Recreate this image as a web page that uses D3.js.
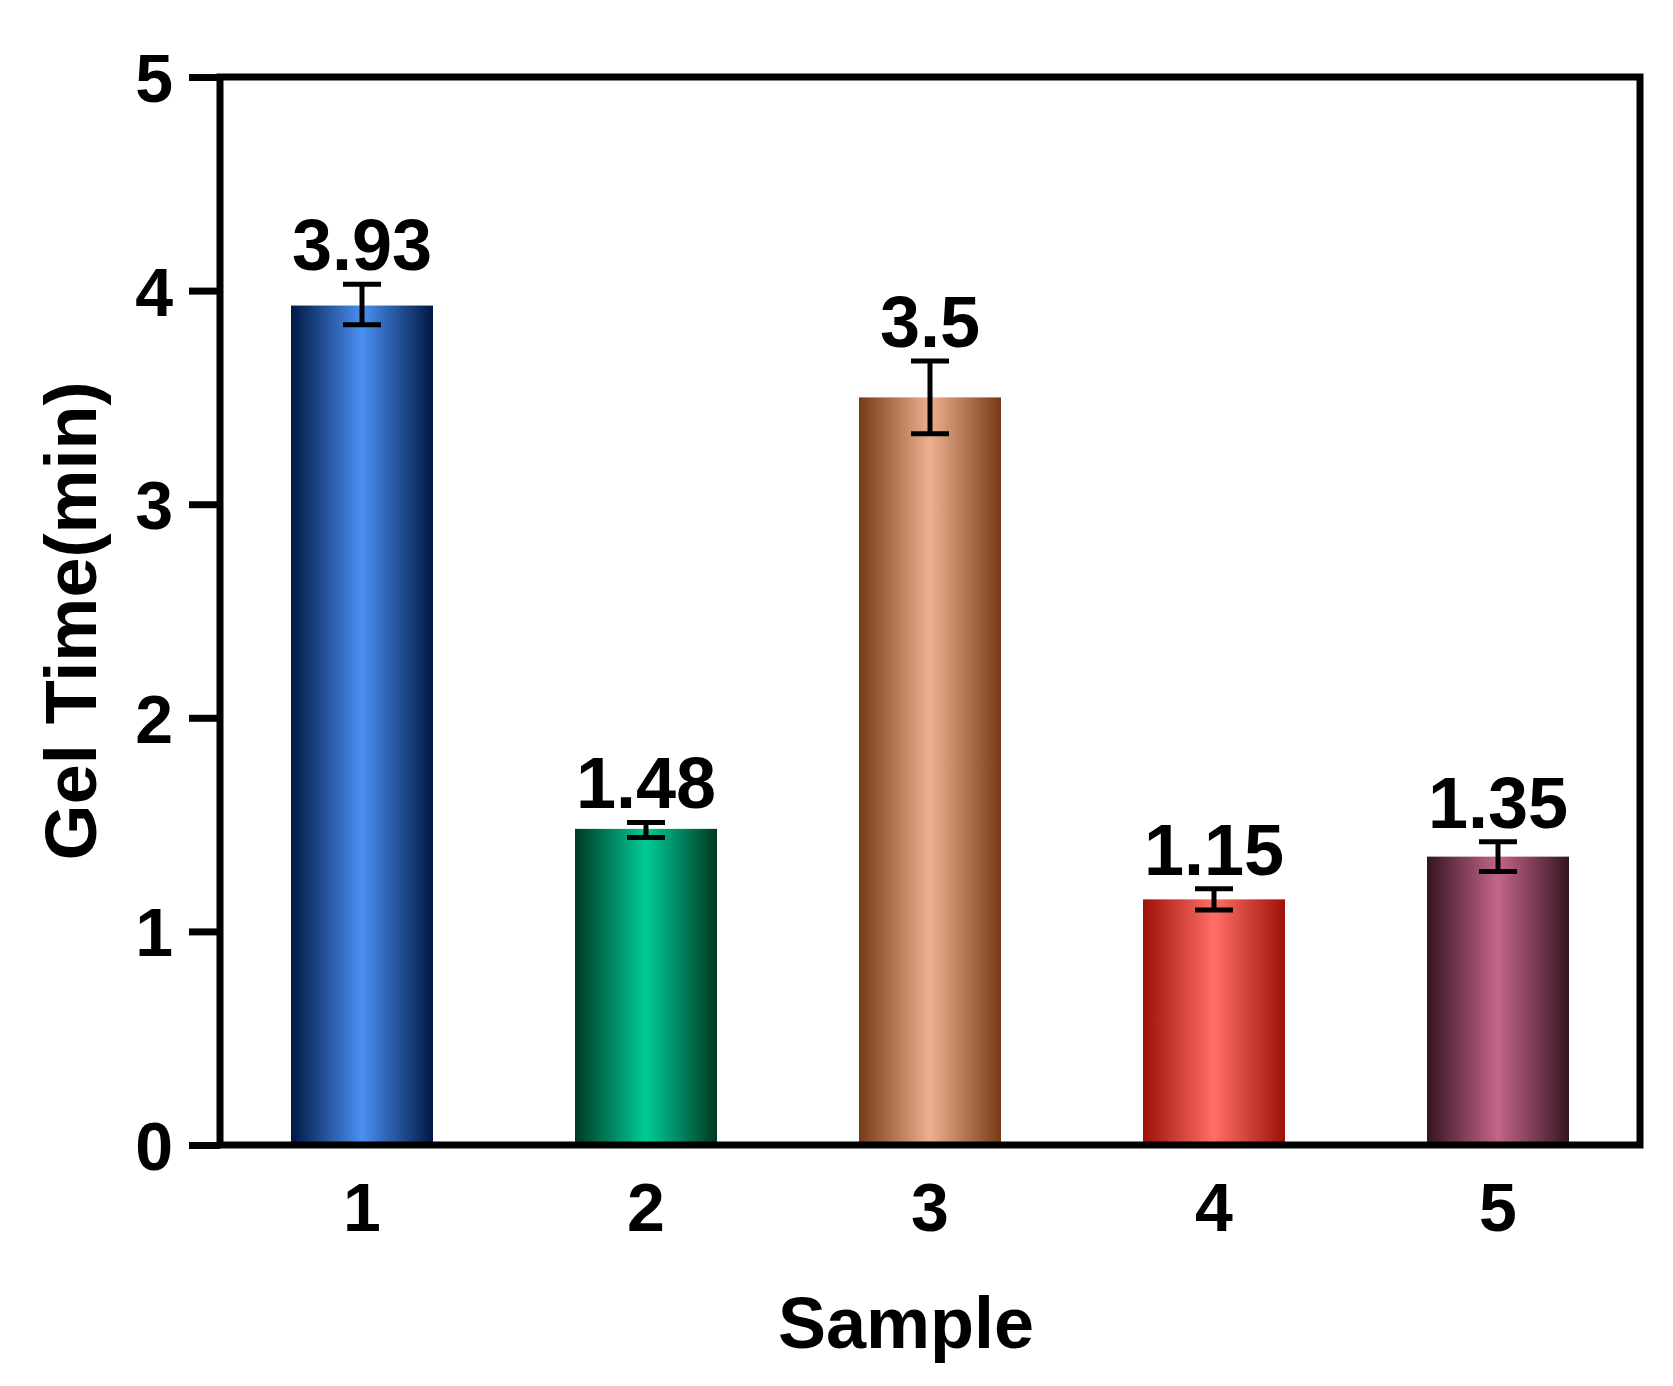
<!DOCTYPE html><html><head><script src="https://cdn.jsdelivr.net/npm/d3@7"></script>
<style>body{margin:0;background:#fff}</style></head><body><svg id="c" width="1673" height="1386"></svg><script>
const samples=["1","2","3","4","5"];
const values=[3.93,1.48,3.5,1.15,1.35];
const errLow=[3.84,1.44,3.33,1.10,1.28];
const errHigh=[4.03,1.51,3.67,1.20,1.42];
const labels=["3.93","1.48","3.5","1.15","1.35"];
const edgeColors=["#001845","#003a22","#763a16","#9e1008","#351522"];
const midColors=["#4a90f2","#00cc99","#edb18f","#ff6f66","#c46589"];
const yTicks=[0,1,2,3,4,5];
const svg=d3.select("#c"),L=220,R=1640,T=77,B=1145;
const x=d3.scaleBand().domain(samples).range([L,R]).paddingInner(0.5).paddingOuter(0.25);
const y=d3.scaleLinear().domain([0,5]).range([B,T]);
const defs=svg.append("defs");
samples.forEach((s,i)=>{const g=defs.append("linearGradient").attr("id","g"+i);
g.append("stop").attr("offset","0%").attr("stop-color",edgeColors[i]);
g.append("stop").attr("offset","50%").attr("stop-color",midColors[i]);
g.append("stop").attr("offset","100%").attr("stop-color",edgeColors[i]);});
svg.selectAll(".bar").data(values).join("rect").attr("x",(d,i)=>x(samples[i])).attr("width",x.bandwidth())
.attr("y",d=>y(d)).attr("height",d=>B-y(d)).attr("fill",(d,i)=>`url(#g${i})`);
const cx=i=>x(samples[i])+x.bandwidth()/2;
const eb=svg.append("g").attr("stroke","#000").attr("stroke-width",5);
values.forEach((v,i)=>{eb.append("line").attr("x1",cx(i)).attr("x2",cx(i)).attr("y1",y(errLow[i])).attr("y2",y(errHigh[i]));
[errLow[i],errHigh[i]].forEach(e=>eb.append("line").attr("x1",cx(i)-19).attr("x2",cx(i)+19).attr("y1",y(e)).attr("y2",y(e)));});
const font="'Liberation Sans',Arial,sans-serif";
svg.selectAll(".vl").data(labels).join("text").attr("x",(d,i)=>cx(i)).attr("y",(d,i)=>y(errHigh[i])-14)
.attr("text-anchor","middle").attr("font-family",font).attr("font-weight","bold").attr("font-size",72).text(d=>d);
svg.append("rect").attr("x",L).attr("y",T).attr("width",R-L).attr("height",B-T).attr("fill","none").attr("stroke","#000").attr("stroke-width",7);
const ya=svg.append("g").attr("transform",`translate(${L},0)`).call(d3.axisLeft(y).tickValues(yTicks).tickFormat(d3.format("d")).tickSize(31).tickPadding(16));
ya.select(".domain").remove();
ya.selectAll("line").attr("stroke-width",7);
ya.selectAll("text").attr("font-family",font).attr("font-weight","bold").attr("font-size",68).attr("dy","0.36em");
const xa=svg.append("g").attr("transform",`translate(0,${B})`).call(d3.axisBottom(x).tickSize(0).tickPadding(38));
xa.select(".domain").remove();
xa.selectAll("text").attr("font-family",font).attr("font-weight","bold").attr("font-size",68).attr("dy","0.71em");
svg.append("text").attr("x",906).attr("y",1348).attr("text-anchor","middle").attr("font-family",font).attr("font-weight","bold").attr("font-size",72).text("Sample");
svg.append("text").attr("transform",`translate(96,${(T+B)/2+10}) rotate(-90)`).attr("text-anchor","middle").attr("font-family",font).attr("font-weight","bold").attr("font-size",72).text("Gel Time(min)");
</script></body></html>
